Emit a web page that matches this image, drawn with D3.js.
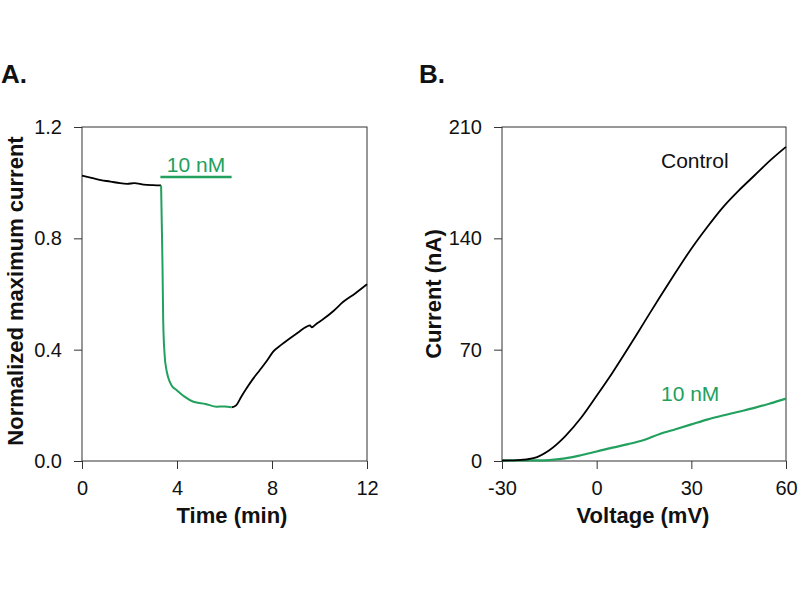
<!DOCTYPE html>
<html>
<head>
<meta charset="utf-8">
<script src="https://d3js.org/d3.v7.min.js"></script>
<style>
  body { margin: 0; background: #fff; }
  svg text { font-family: Arial, "Liberation Sans", sans-serif; fill: #111; }
  .tick text { font-size: 20px; }
  .title { font-size: 22px; font-weight: bold; }
  .panel { font-size: 26px; font-weight: bold; }
</style>
</head>
<body>
<svg id="chart" width="800" height="600"></svg>
<script>
// ---- panel A: normalized maximum current vs time ----
const baseTime  = [0, 0.4, 0.8, 1.2, 1.6, 1.9, 2.2, 2.6, 3.0, 3.33];
const baseValue = [1.025, 1.017, 1.009, 1.004, 0.998, 0.996, 0.998, 0.993, 0.991, 0.990];

const drugTime  = [3.33, 3.36, 3.39, 3.42, 3.48, 3.55, 3.63, 3.78, 3.98, 4.3, 4.69, 5.2, 5.67, 6.0, 6.3];
const drugValue = [0.990, 0.85, 0.70, 0.50, 0.38, 0.33, 0.30, 0.27, 0.255, 0.232, 0.213, 0.205, 0.195, 0.196, 0.193];

const washTime  = [6.3, 6.5, 6.7, 6.93, 7.2, 7.49, 7.8, 8.05, 8.4, 8.76, 9.1, 9.46, 9.6, 9.67, 9.9, 10.16, 10.6, 11.0, 11.5, 12.0];
const washValue = [0.193, 0.201, 0.23, 0.261, 0.295, 0.327, 0.362, 0.393, 0.418, 0.441, 0.462, 0.483, 0.487, 0.480, 0.495, 0.510, 0.540, 0.572, 0.602, 0.635];

const drugBar = [3.3, 6.3];   // application period (min)
const drugBarLevel = 1.02;
const timeTicks = [0, 4, 8, 12];
const normTicks = [0, 0.4, 0.8, 1.2];

// ---- panel B: current vs voltage ----
const voltage  = [-30, -25, -20, -15, -10, -5, 0, 5, 10, 15, 20, 25, 30, 35, 40, 45, 50, 55, 60];
const control  = [0.3, 0.5, 1.8, 6.8, 15.5, 27, 41, 55.5, 71, 87, 103, 118.5, 133.5, 147, 159.5, 170, 179.5, 189, 197.5];
const tenNM    = [0.3, 0.3, 0.4, 0.6, 1.6, 3.6, 6.0, 8.4, 10.6, 13.2, 17.0, 20.0, 23.0, 26.0, 28.6, 31.0, 33.4, 36.2, 39.2];
const voltTicks = [-30, 0, 30, 60];
const currTicks = [0, 70, 140, 210];

const green = "#22a05e";
const svg = d3.select("#chart");

function frame(g, x, y) {
  const [x0, x1] = x.range(), [y0, y1] = y.range();
  g.append("rect")
    .attr("x", x0).attr("y", y1)
    .attr("width", x1 - x0).attr("height", y0 - y1)
    .attr("fill", "none").attr("stroke", "#333").attr("stroke-width", 1);
}

function axes(g, x, y, xt, yt, yfmt) {
  const xa = g.append("g")
    .attr("transform", `translate(0,${y.range()[0]})`)
    .call(d3.axisBottom(x).tickValues(xt).tickSize(8).tickPadding(12).tickFormat(d => String(d)));
  const ya = g.append("g")
    .attr("transform", `translate(${x.range()[0]},0)`)
    .call(d3.axisLeft(y).tickValues(yt).tickSize(8).tickPadding(12).tickFormat(yfmt));
  [xa, ya].forEach(a => {
    a.select(".domain").remove();
    a.selectAll(".tick line").attr("stroke", "#333");
    a.selectAll(".tick text").attr("fill", "#111");
  });
}

const lineOf = (x, y) => d3.line().x(d => x(d[0])).y(d => y(d[1])).curve(d3.curveMonotoneX);

// ---------- Panel A ----------
const xA = d3.scaleLinear().domain([0, 12]).range([82, 367]);
const yA = d3.scaleLinear().domain([0, 1.2]).range([461, 127]);
const gA = svg.append("g");

frame(gA, xA, yA);
axes(gA, xA, yA, timeTicks, normTicks, d3.format(".1f"));

const lA = lineOf(xA, yA);
gA.append("path").datum(d3.zip(baseTime, baseValue))
  .attr("d", lA).attr("fill", "none").attr("stroke", "#000").attr("stroke-width", 1.8);
gA.append("path").datum(d3.zip(washTime, washValue))
  .attr("d", lA).attr("fill", "none").attr("stroke", "#000").attr("stroke-width", 1.8);
gA.append("path").datum(d3.zip(drugTime, drugValue))
  .attr("d", lA).attr("fill", "none").attr("stroke", green).attr("stroke-width", 2);

gA.append("line")
  .attr("x1", xA(drugBar[0])).attr("x2", xA(drugBar[1]))
  .attr("y1", yA(drugBarLevel)).attr("y2", yA(drugBarLevel))
  .attr("stroke", green).attr("stroke-width", 2.5);
gA.append("text")
  .attr("x", xA((drugBar[0] + drugBar[1]) / 2)).attr("y", 172)
  .attr("text-anchor", "middle").style("font-size", "21px").style("fill", green)
  .text("10 nM");

gA.append("text").attr("class", "panel").attr("x", 1).attr("y", 83).text("A.");
gA.append("text").attr("class", "title")
  .attr("x", 232).attr("y", 523).attr("text-anchor", "middle").text("Time (min)");
gA.append("text").attr("class", "title")
  .attr("transform", "translate(23,291) rotate(-90)")
  .attr("text-anchor", "middle").text("Normalized maximum current");

// ---------- Panel B ----------
const xB = d3.scaleLinear().domain([-30, 60]).range([502, 786]);
const yB = d3.scaleLinear().domain([0, 210]).range([461, 127]);
const gB = svg.append("g");

frame(gB, xB, yB);
axes(gB, xB, yB, voltTicks, currTicks, d3.format("d"));

const lB = lineOf(xB, yB);
gB.append("path").datum(d3.zip(voltage, tenNM))
  .attr("d", lB).attr("fill", "none").attr("stroke", green).attr("stroke-width", 2.2);
gB.append("path").datum(d3.zip(voltage, control))
  .attr("d", lB).attr("fill", "none").attr("stroke", "#000").attr("stroke-width", 1.8);

gB.append("text").attr("x", 661).attr("y", 168).style("font-size", "21px").text("Control");
gB.append("text").attr("x", 661).attr("y", 401).style("font-size", "21px").style("fill", green).text("10 nM");

gB.append("text").attr("class", "panel").attr("x", 419).attr("y", 83).text("B.");
gB.append("text").attr("class", "title")
  .attr("x", 643).attr("y", 523).attr("text-anchor", "middle").text("Voltage (mV)");
gB.append("text").attr("class", "title")
  .attr("transform", "translate(441,294) rotate(-90)")
  .attr("text-anchor", "middle").text("Current (nA)");
</script>
</body>
</html>
